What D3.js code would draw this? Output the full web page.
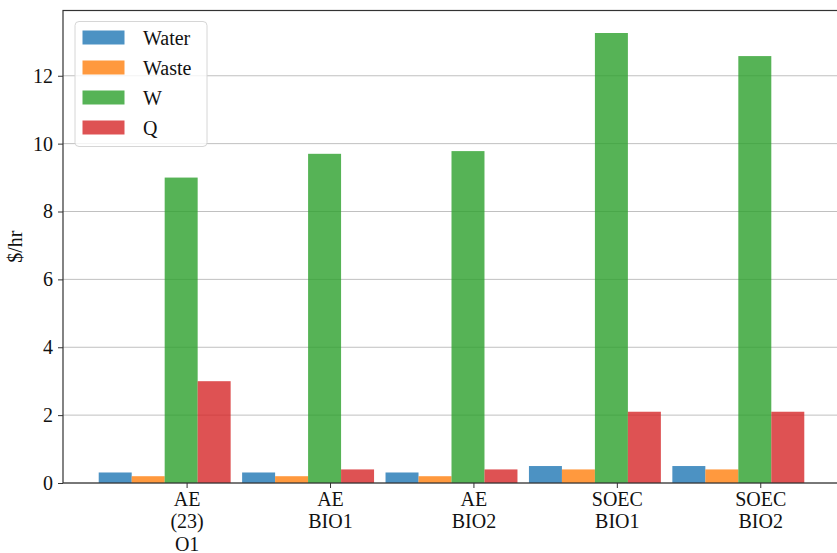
<!DOCTYPE html>
<html>
<head>
<meta charset="utf-8">
<script src="https://cdn.jsdelivr.net/npm/d3@7"></script>
<style>
  html, body { margin: 0; padding: 0; background: #fff; }
  svg { display: block; font-family: "Liberation Serif", "DejaVu Serif", serif; }
</style>
</head>
<body>
<svg id="chart" width="837" height="553"></svg>
<script>
// Hourly cost breakdown per configuration
const categories = [["AE", "(23)", "O1"], ["AE", "BIO1"], ["AE", "BIO2"], ["SOEC", "BIO1"], ["SOEC", "BIO2"]];
const seriesNames = ["Water", "Waste", "W", "Q"];
const water = [0.31, 0.31, 0.31, 0.5, 0.5];
const waste = [0.2, 0.2, 0.2, 0.4, 0.4];
const power = [9.0, 9.7, 9.78, 13.26, 12.58];
const heat = [3.0, 0.4, 0.4, 2.1, 2.1];
const yTicks = [0, 2, 4, 6, 8, 10, 12];
const colors = ["#1f77b4", "#ff7f0e", "#2ca02c", "#d62728"];

const seriesValues = [water, waste, power, heat];
const rows = categories.map((c, i) => ({
  key: c.join(" "),
  lines: c,
  values: seriesValues.map(s => s[i])
}));

const fontSize = 20;
const svg = d3.select("#chart");
const plotLeft = 63, plotRight = 840, plotTop = 10.5, plotBottom = 483;

const x0 = d3.scaleBand()
  .domain(rows.map(r => r.key))
  .range([plotLeft, plotRight])
  .paddingInner(0.08)
  .paddingOuter(0.249);
const x1 = d3.scaleBand()
  .domain(seriesNames)
  .range([0, x0.bandwidth()]);
const y = d3.scaleLinear()
  .domain([0, 13.26 * 1.05])
  .range([plotBottom, plotTop]);

// horizontal grid
svg.append("g")
  .selectAll("line")
  .data(yTicks)
  .join("line")
  .attr("x1", plotLeft).attr("x2", plotRight)
  .attr("y1", d => y(d)).attr("y2", d => y(d))
  .attr("stroke", "#b0b0b0")
  .attr("stroke-width", 0.8);

// bars
const groups = svg.append("g")
  .selectAll("g")
  .data(rows)
  .join("g")
  .attr("transform", d => `translate(${x0(d.key)},0)`);
groups.selectAll("rect")
  .data(d => d.values.map((v, i) => ({ name: seriesNames[i], v, i })))
  .join("rect")
  .attr("x", d => x1(d.name))
  .attr("width", x1.bandwidth())
  .attr("y", d => y(d.v))
  .attr("height", d => y(0) - y(d.v))
  .attr("fill", d => colors[d.i])
  .attr("fill-opacity", 0.8);

// y axis
const yAxis = d3.axisLeft(y).tickValues(yTicks).tickSize(5).tickPadding(5).tickFormat(d3.format("d"));
const gy = svg.append("g").attr("transform", `translate(${plotLeft},0)`).call(yAxis);
gy.select(".domain").remove();
gy.selectAll("text").attr("font-size", fontSize).attr("fill", "#111")
  .attr("font-family", "Liberation Serif, serif");
gy.selectAll("line").attr("stroke", "#333");

// x axis: ticks sit two-thirds into each group
const tickPos = r => x0(r.key) + x0.bandwidth() * 0.67;
const gx = svg.append("g");
gx.selectAll("line")
  .data(rows)
  .join("line")
  .attr("x1", tickPos).attr("x2", tickPos)
  .attr("y1", plotBottom).attr("y2", plotBottom + 5)
  .attr("stroke", "#333");
gx.selectAll("text")
  .data(rows)
  .join("text")
  .attr("x", tickPos)
  .attr("y", plotBottom + 22.5)
  .attr("text-anchor", "middle")
  .attr("font-size", fontSize)
  .attr("fill", "#111")
  .selectAll("tspan")
  .data(d => d.lines.map(l => ({ l, x: tickPos(d) })))
  .join("tspan")
  .attr("x", d => d.x)
  .attr("dy", (d, i) => i === 0 ? 0 : 22.5)
  .text(d => d.l);

// frame
svg.append("rect")
  .attr("x", plotLeft).attr("y", plotTop)
  .attr("width", plotRight - plotLeft).attr("height", plotBottom - plotTop)
  .attr("fill", "none")
  .attr("stroke", "#333")
  .attr("stroke-width", 1.2);

// y label
svg.append("text")
  .attr("transform", `translate(22,${(plotTop + plotBottom) / 2}) rotate(-90)`)
  .attr("text-anchor", "middle")
  .attr("font-size", fontSize)
  .attr("fill", "#111")
  .text("$/hr");

// legend
const lg = svg.append("g").attr("transform", "translate(75,21.5)");
lg.append("rect")
  .attr("width", 132).attr("height", 125)
  .attr("rx", 4)
  .attr("fill", "#fff").attr("fill-opacity", 0.8)
  .attr("stroke", "#d6d6d6");
const items = lg.selectAll("g.item")
  .data(seriesNames)
  .join("g")
  .attr("class", "item")
  .attr("transform", (d, i) => `translate(0,${16 + i * 30})`);
items.append("rect")
  .attr("x", 7.5).attr("y", -7)
  .attr("width", 42).attr("height", 14)
  .attr("fill", (d, i) => colors[i]).attr("fill-opacity", 0.8);
items.append("text")
  .attr("x", 68).attr("y", 7)
  .attr("font-size", fontSize)
  .attr("fill", "#111")
  .text(d => d);
</script>
</body>
</html>
